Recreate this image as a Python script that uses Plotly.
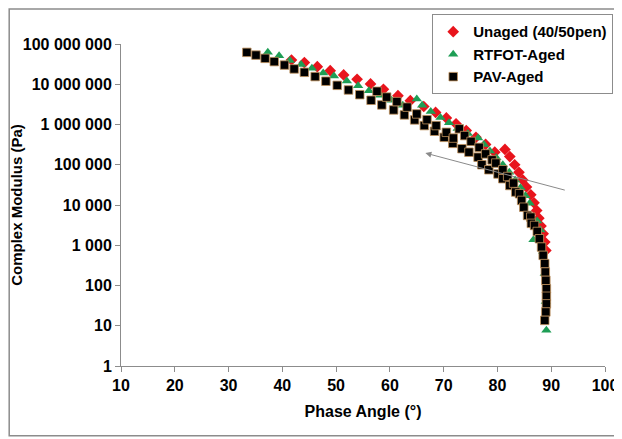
import plotly.graph_objects as go

# ---- data ----
unaged_phase = [41.7, 44.1, 46.5, 48.9, 51.4, 53.9, 56.4, 58.8, 61.5, 63.8, 66.3, 68.5, 70.5, 72.3, 74.2, 76.0, 77.8, 79.5,
                81.4, 82.3, 83.2, 84.0, 84.7, 85.4, 86.2, 86.8, 87.3, 87.7, 88.1, 88.5, 88.8, 89.0]
unaged_mod = [4.0e7, 3.45e7, 2.74e7, 2.18e7, 1.7e7, 1.33e7, 1.02e7, 7.5e6, 5.2e6, 3.9e6, 2.8e6, 2.0e6, 1.46e6, 1.04e6, 7.1e5, 4.8e5, 3.2e5, 2.05e5,
              2.4e5, 1.6e5, 1.0e5, 6.5e4, 4.2e4, 2.8e4, 1.8e4, 1.13e4, 7.3e3, 4.7e3, 3.0e3, 1.93e3, 1.2e3, 745]

rtfot_phase = [37.3, 39.4, 41.4, 43.5, 45.5, 47.6, 49.6, 52.0, 54.1, 56.1, 58.2, 60.3, 62.4,
               65.0, 66.0, 67.6, 69.4, 71.0, 72.6, 74.5, 76.4, 77.5, 78.6, 79.8, 81.0, 82.2, 83.3, 84.3, 85.2, 86.0, 86.7, 87.4, 88.0, 88.5, 88.8, 89.0, 89.1]
rtfot_mod = [6.2e7, 5.1e7, 3.9e7, 3.1e7, 2.5e7, 1.9e7, 1.6e7, 1.2e7, 9.2e6, 6.9e6, 5.3e6, 4.0e6, 3.0e6,
             4.3e6, 3.0e6, 2.1e6, 1.5e6, 1.1e6, 8.0e5, 6.0e5, 4.6e5, 3.2e5, 2.2e5, 1.5e5, 1.0e5, 6.5e4, 4.2e4, 2.7e4, 1.7e4, 1.1e4, 1.37e3, 4.0e3, 2.4e3, 700, 200, 40, 7.7]

pav_phase = [33.4, 35.1, 36.8, 38.5, 40.4, 42.2, 44.1, 46.1, 48.1, 50.2, 52.3, 54.4, 56.5, 57.6, 58.5, 59.4, 60.7, 61.3,
             62.7, 63.2, 64.6, 65.0, 66.4, 66.9, 68.3, 68.6, 70.1, 70.5, 71.7, 71.8, 72.9, 73.4, 73.9, 74.7, 75.1, 76.4,
             76.6, 77.1, 77.8, 78.4, 79.0, 79.7, 80.1, 81.0, 81.0, 81.9, 82.3, 83.0, 83.4, 84.1, 84.5, 84.9, 85.6, 86.2,
             86.3, 86.9, 87.4, 87.8, 88.2, 88.5, 88.8, 88.9, 89.0, 89.1, 89.1, 89.1, 89.0, 88.8]
pav_mod = [6.2e7, 5.3e7, 4.4e7, 3.65e7, 3.0e7, 2.4e7, 1.98e7, 1.55e7, 1.19e7, 9.4e6, 7.2e6, 5.5e6, 4.0e6, 6.7e6, 3.06e6, 4.8e6, 2.3e6, 3.7e6,
           1.73e6, 2.7e6, 1.3e6, 1.83e6, 9.4e5, 1.32e6, 6.8e5, 9.4e5, 4.8e5, 6.4e5, 3.4e5, 4.6e5, 7.8e5, 2.5e5, 5.3e5, 2.05e5, 3.8e5, 1.54e5,
           2.7e5, 1.0e5, 1.86e5, 7.5e4, 1.32e5, 1.1e5, 5.9e4, 7.5e4, 4.5e4, 5.1e4, 3.05e4, 3.5e4, 2.1e4, 1.9e4, 1.3e4, 8.8e3, 5.5e3, 5.0e3,
           3.5e3, 3.1e3, 2.2e3, 1.45e3, 900, 560, 350, 216, 134, 83, 54, 35, 22, 13.6]

x_ticks = [10, 20, 30, 40, 50, 60, 70, 80, 90, 100]
y_tickvals = [1, 10, 100, 1000, 1e4, 1e5, 1e6, 1e7, 1e8]
y_ticktext = ["1", "10", "100", "1 000", "10 000", "100 000", "1 000 000", "10 000 000", "100 000 000"]

FONT = "Arial, Liberation Sans, sans-serif"
AXIS_GRAY = "#8c8c8c"

fig = go.Figure()
fig.add_trace(go.Scatter(x=unaged_phase, y=unaged_mod, mode="markers", name="Unaged (40/50pen)",
                         marker=dict(symbol="diamond", size=9, color="#e8141c", line=dict(width=0))))
fig.add_trace(go.Scatter(x=rtfot_phase, y=rtfot_mod, mode="markers", name="RTFOT-Aged",
                         marker=dict(symbol="triangle-up", size=9, color="#1e9e55", line=dict(width=0))))
fig.add_trace(go.Scatter(x=pav_phase, y=pav_mod, mode="markers", name="PAV-Aged",
                         marker=dict(symbol="square", size=8.5, color="#000000",
                                     line=dict(width=0.8, color="#c0905a"))))

# arrow annotation
fig.add_annotation(x=66.6, y=5.29, ax=92.8, ay=4.36, xref="x", yref="y", axref="x", ayref="y",
                   text="", showarrow=True, arrowhead=2, arrowsize=1.2, arrowwidth=1, arrowcolor="#8a8a8a")

# outer frame
fig.add_shape(type="rect", xref="paper", yref="paper", x0=-0.231, x1=1.029, y0=-0.217, y1=1.109,
              line=dict(color="#8c8c8c", width=1.5), fillcolor="rgba(0,0,0,0)", layer="below")

fig.update_layout(
    width=614, height=431,
    margin=dict(l=113, r=17, t=36, b=73, autoexpand=False),
    paper_bgcolor="white", plot_bgcolor="white",
    font=dict(family=FONT, size=15, color="#000000"),
    showlegend=True,
    legend=dict(x=0.643, y=1.092, xanchor="left", yanchor="top",
                bgcolor="white", bordercolor="#8c8c8c", borderwidth=1,
                font=dict(family=FONT, size=15, color="#000000", weight="bold"),
                itemwidth=30, tracegroupgap=0),
    xaxis=dict(range=[10, 100], tickvals=x_ticks, ticks="outside", ticklen=5, tickcolor=AXIS_GRAY,
               showline=True, linecolor=AXIS_GRAY, linewidth=1, showgrid=False, zeroline=False, automargin=False,
               tickfont=dict(family=FONT, size=16, weight="bold"),
               title=dict(text="Phase Angle (°)", font=dict(family=FONT, size=16, weight="bold"), standoff=12)),
    yaxis=dict(type="log", range=[0, 8], tickvals=y_tickvals, ticktext=y_ticktext, ticks="outside", ticklen=5,
               tickcolor=AXIS_GRAY, showline=True, linecolor=AXIS_GRAY, linewidth=1, showgrid=False, zeroline=False,
               automargin=False,
               tickfont=dict(family=FONT, size=16, weight="bold"),
               title=dict(text="Complex Modulus (Pa)", font=dict(family=FONT, size=15, weight="bold"), standoff=4)),
)

fig.write_html("out.html")
